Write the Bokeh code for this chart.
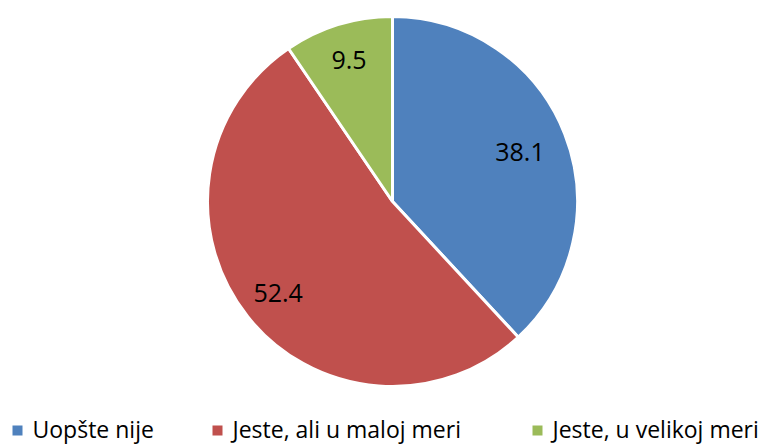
import math
from bokeh.plotting import figure
from bokeh.models import ColumnDataSource, Range1d
from bokeh.core.properties import value
from bokeh.embed import file_html
from bokeh.resources import INLINE

categories = ["Uopšte nije", "Jeste, ali u maloj meri", "Jeste, u velikoj meri"]
values = [38.1, 52.4, 9.5]
colors = ["#4F81BD", "#C0504D", "#9BBB59"]
labels = ["38.1", "52.4", "9.5"]

W, H = 782, 444
cx, cy, R = 392, H - 201, 185
label_frac = [0.74, 0.79, 0.80]

total = sum(values)
starts, ends, lx, ly = [], [], [], []
cum = 0.0
for v, f in zip(values, label_frac):
    a0 = cum / total * 2 * math.pi
    cum += v
    a1 = cum / total * 2 * math.pi
    starts.append(math.pi / 2 - a1)
    ends.append(math.pi / 2 - a0)
    mid = (a0 + a1) / 2
    lx.append(cx + f * R * math.sin(mid))
    ly.append(cy + f * R * math.cos(mid))

src = ColumnDataSource(dict(start=starts, end=ends, color=colors, lx=lx, ly=ly, label=labels))

p = figure(width=W, height=H, output_backend="svg", toolbar_location=None,
           x_range=Range1d(0, W), y_range=Range1d(0, H), min_border=0)
p.axis.visible = False
p.grid.visible = False
p.outline_line_color = None
p.background_fill_color = "white"
p.border_fill_color = "white"

p.wedge(x=cx, y=cy, radius=R, start_angle="start", end_angle="end", fill_color="color",
        line_color="white", line_width=3, source=src)
p.text(x="lx", y="ly", text="label", source=src, text_align="center", text_baseline="middle",
       text_font=value("Open Sans"), text_font_size="25px", text_color="#000000")

# legend
leg_x = [12, 212, 532]
leg_y = H - 428
p.rect(x=[x + 5 for x in leg_x], y=H - 430, width=10, height=10, fill_color=colors, line_color=None)
p.text(x=[x + 20 for x in leg_x], y=leg_y, text=categories, text_align="left", text_baseline="middle",
       text_font=value("Open Sans"), text_font_size="23px", text_color="#000000")

open("out.html", "w").write(file_html(p, INLINE))
